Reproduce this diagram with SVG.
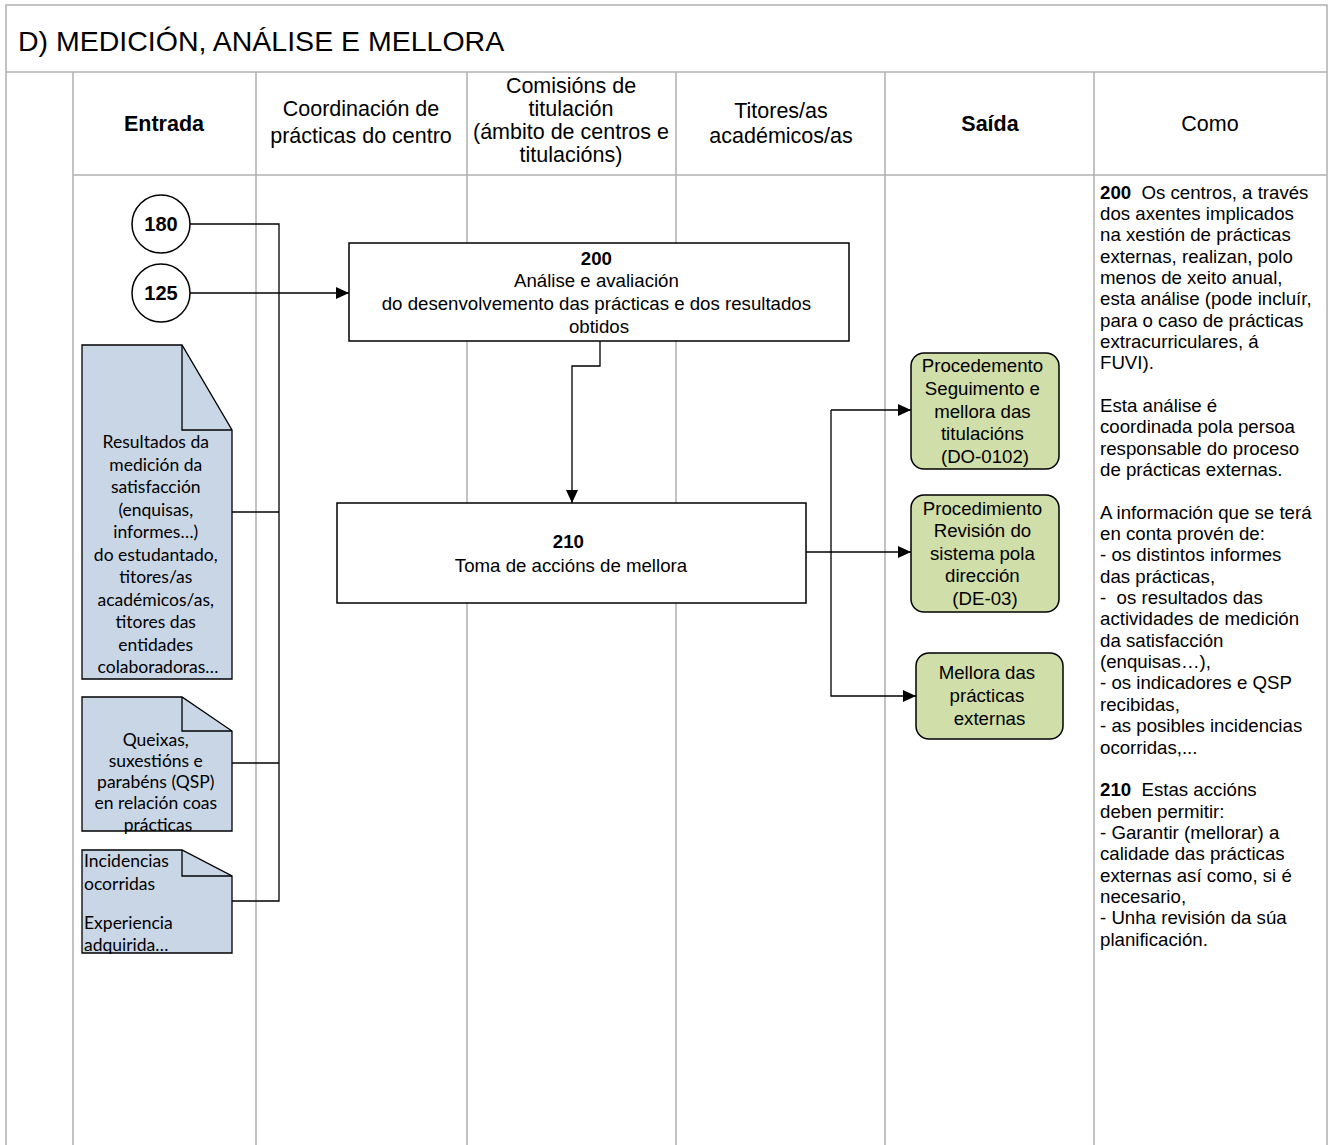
<svg xmlns="http://www.w3.org/2000/svg" width="1332" height="1145" viewBox="0 0 1332 1145">
<defs>
<style>
.grid{stroke:#b0b0b0;stroke-width:1.5;fill:none}
.hd{font-family:"Liberation Sans",Arial,sans-serif;font-size:21.5px;fill:#000;text-anchor:middle}
.b{font-weight:bold}
.tx{font-family:"Liberation Sans",Arial,sans-serif;font-size:18.67px;fill:#000}
.num{font-family:"Liberation Sans",Arial,sans-serif;font-size:20px;font-weight:bold;fill:#000;text-anchor:middle}
.mid{text-anchor:middle}
.box{fill:#fff;stroke:#000;stroke-width:1.5}
.doc{fill:#c9d6e6;stroke:#000;stroke-width:1.3}
.fold{fill:none;stroke:#000;stroke-width:1.3}
.dt{font-family:Lato,"Open Sans",sans-serif;font-size:17.5px;fill:#000}
.grn{fill:#d0dea9;stroke:#000;stroke-width:1.5}
.con{fill:none;stroke:#000;stroke-width:1.3}
.circ{fill:#fff;stroke:#000;stroke-width:1.5}
</style>
<marker id="arr" markerWidth="13" markerHeight="12" refX="13" refY="6" orient="auto" markerUnits="userSpaceOnUse">
<path d="M0,0 L13,6 L0,12 Z" fill="#000"/>
</marker>
</defs>
<rect width="1332" height="1145" fill="#fff"/>
<g id="grid">
<path class="grid" d="M6,1145 V5 H1327 V1145"/>
<path class="grid" d="M6,72 H1327"/>
<path class="grid" d="M73,175 H1327"/>
<path class="grid" d="M73,72 V1145 M256,72 V1145 M467,72 V1145 M676,72 V1145 M885,72 V1145 M1094,72 V1145"/>
</g>
<g id="title">
<text x="18" y="51" font-family="'Liberation Sans',Arial,sans-serif" font-size="28.5px">D) MEDICIÓN, ANÁLISE E MELLORA</text>
</g>
<g id="headers">
<text class="hd b" x="164" y="131">Entrada</text>
<text class="hd" x="361" y="116">Coordinación de</text>
<text class="hd" x="361" y="142.5">prácticas do centro</text>
<text class="hd" x="571" y="92.5">Comisións de</text>
<text class="hd" x="571" y="115.8">titulación</text>
<text class="hd" x="571" y="139.1">(ámbito de centros e</text>
<text class="hd" x="571" y="162.4">titulacións)</text>
<text class="hd" x="781" y="118">Titores/as</text>
<text class="hd" x="781" y="142.5">académicos/as</text>
<text class="hd b" x="990" y="131">Saída</text>
<text class="hd" x="1210" y="131">Como</text>
</g>
<g id="connectors">
<path class="con" d="M190,224 H279 V293" stroke-width="1"/>
<path class="con" d="M279,293 V901 H232"/>
<path class="con" d="M232,512 H279"/>
<path class="con" d="M232,763 H279"/>
<path class="con" d="M190,293 H349" marker-end="url(#arr)"/>
<path class="con" d="M600,341 V366 H572 V503" marker-end="url(#arr)"/>
<path class="con" d="M806,552 H911" marker-end="url(#arr)"/>
<path class="con" d="M831,410 H911" marker-end="url(#arr)"/>
<path class="con" d="M831,410 V696 H916" marker-end="url(#arr)"/>
</g>
<g id="n180">
<circle class="circ" cx="161" cy="224" r="29"/>
<text class="num" x="161" y="231">180</text>
</g>
<g id="n125">
<circle class="circ" cx="161" cy="293" r="29"/>
<text class="num" x="161" y="300">125</text>
</g>
<g id="doc-resultados">
<path class="doc" d="M82,345 H182 L232,430 V679 H82 Z"/>
<path class="fold" d="M182,345 V430 H232"/>
<text class="dt mid">
<tspan x="158" y="448">Resultados da</tspan>
<tspan x="158" y="470.5">medición da</tspan>
<tspan x="158" y="493">satisfacción</tspan>
<tspan x="158" y="515.5">(enquisas,</tspan>
<tspan x="158" y="538">informes…)</tspan>
<tspan x="158" y="560.5">do estudantado,</tspan>
<tspan x="158" y="583">titores/as</tspan>
<tspan x="158" y="605.5">académicos/as,</tspan>
<tspan x="158" y="628">titores das</tspan>
<tspan x="158" y="650.5">entidades</tspan>
<tspan x="158" y="673">colaboradoras…</tspan>
</text>
</g>
<g id="doc-queixas">
<path class="doc" d="M82,697 H182 L232,731 V831 H82 Z"/>
<path class="fold" d="M182,697 V731 H232"/>
<text class="dt mid">
<tspan x="158" y="746">Queixas,</tspan>
<tspan x="158" y="767">suxestións e</tspan>
<tspan x="158" y="788">parabéns (QSP)</tspan>
<tspan x="158" y="809">en relación coas</tspan>
<tspan x="158" y="831">prácticas</tspan>
</text>
</g>
<g id="doc-incidencias">
<path class="doc" d="M82,850 H182 L232,876 V953 H82 Z"/>
<path class="fold" d="M182,850 V876 H232"/>
<text class="dt">
<tspan x="84" y="867">Incidencias</tspan>
<tspan x="84" y="890">ocorridas</tspan>
<tspan x="84" y="929">Experiencia</tspan>
<tspan x="84" y="951">adquirida…</tspan>
</text>
</g>
<g id="n200">
<rect class="box" x="349" y="243" width="500" height="98"/>
<text class="tx mid">
<tspan class="b" x="599" y="264.5">200</tspan>
<tspan x="599" y="287.2">Análise e avaliación</tspan>
<tspan x="599" y="309.9">do desenvolvemento das prácticas e dos resultados</tspan>
<tspan x="599" y="332.5">obtidos</tspan>
</text>
</g>
<g id="n210">
<rect class="box" x="337" y="503" width="469" height="100"/>
<text class="tx mid">
<tspan class="b" x="571" y="547.5">210</tspan>
<tspan x="571" y="571.5">Toma de accións de mellora</tspan>
</text>
</g>
<g id="out-do0102">
<rect class="grn" x="911" y="353" width="148" height="116" rx="13"/>
<text class="tx mid">
<tspan x="985" y="371.5">Procedemento</tspan>
<tspan x="985" y="394.5">Seguimento e</tspan>
<tspan x="985" y="417.5">mellora das</tspan>
<tspan x="985" y="440">titulacións</tspan>
<tspan x="985" y="463">(DO-0102)</tspan>
</text>
</g>
<g id="out-de03">
<rect class="grn" x="911" y="495" width="148" height="117" rx="13"/>
<text class="tx mid">
<tspan x="985" y="514.5">Procedimiento</tspan>
<tspan x="985" y="537">Revisión do</tspan>
<tspan x="985" y="559.5">sistema pola</tspan>
<tspan x="985" y="582">dirección</tspan>
<tspan x="985" y="604.5">(DE-03)</tspan>
</text>
</g>
<g id="out-mellora">
<rect class="grn" x="916" y="653" width="147" height="86" rx="13"/>
<text class="tx mid">
<tspan x="989.5" y="678.5">Mellora das</tspan>
<tspan x="989.5" y="701.5">prácticas</tspan>
<tspan x="989.5" y="724.5">externas</tspan>
</text>
</g>
<g id="como">
<text class="tx" xml:space="preserve"><tspan x="1100" y="198.5"><tspan class="b">200</tspan>  Os centros, a través</tspan><tspan x="1100" y="219.8">dos axentes implicados</tspan><tspan x="1100" y="241.2">na xestión de prácticas</tspan><tspan x="1100" y="262.5">externas, realizan, polo</tspan><tspan x="1100" y="283.9">menos de xeito anual,</tspan><tspan x="1100" y="305.2">esta análise (pode incluír,</tspan><tspan x="1100" y="326.5">para o caso de prácticas</tspan><tspan x="1100" y="347.9">extracurriculares, á</tspan><tspan x="1100" y="369.2">FUVI).</tspan><tspan x="1100" y="411.9">Esta análise é</tspan><tspan x="1100" y="433.3">coordinada pola persoa</tspan><tspan x="1100" y="454.6">responsable do proceso</tspan><tspan x="1100" y="476">de prácticas externas.</tspan><tspan x="1100" y="518.7">A información que se terá</tspan><tspan x="1100" y="540">en conta provén de:</tspan><tspan x="1100" y="561.4">- os distintos informes</tspan><tspan x="1100" y="582.7">das prácticas,</tspan><tspan x="1100" y="604.1">-  os resultados das</tspan><tspan x="1100" y="625.4">actividades de medición</tspan><tspan x="1100" y="646.8">da satisfacción</tspan><tspan x="1100" y="668.1">(enquisas…),</tspan><tspan x="1100" y="689.4">- os indicadores e QSP</tspan><tspan x="1100" y="710.8">recibidas,</tspan><tspan x="1100" y="732.1">- as posibles incidencias</tspan><tspan x="1100" y="753.5">ocorridas,...</tspan><tspan x="1100" y="796.2"><tspan class="b">210</tspan>  Estas accións</tspan><tspan x="1100" y="817.5">deben permitir:</tspan><tspan x="1100" y="838.9">- Garantir (mellorar) a</tspan><tspan x="1100" y="860.2">calidade das prácticas</tspan><tspan x="1100" y="881.6">externas así como, si é</tspan><tspan x="1100" y="902.9">necesario,</tspan><tspan x="1100" y="924.2">- Unha revisión da súa</tspan><tspan x="1100" y="945.6">planificación.</tspan></text>
</g>
</svg>
